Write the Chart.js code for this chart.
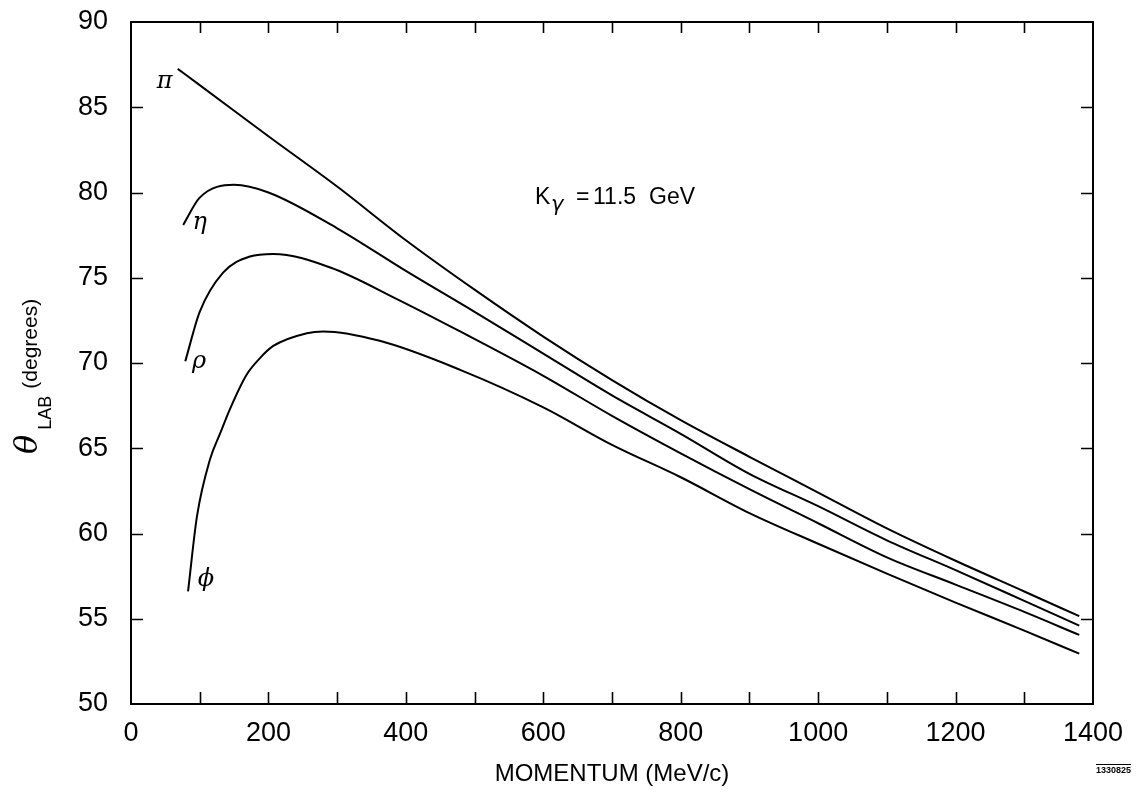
<!DOCTYPE html>
<html>
<head>
<meta charset="utf-8">
<script src="https://cdn.jsdelivr.net/npm/chart.js@4.4.1/dist/chart.umd.min.js"></script>
<style>
  html, body { margin: 0; padding: 0; background: #fff; }
</style>
</head>
<body>
<canvas id="chart" width="1139" height="794"></canvas>
<script>
// lab angle (degrees) against momentum (MeV/c) for each meson, K_gamma = 11.5 GeV
const piMomentum  = [68, 100, 200, 300, 400, 500, 600, 700, 800, 900, 1000, 1100, 1200, 1300, 1380];
const piAngle     = [87.25, 86.3, 83.3, 80.35, 77.2, 74.3, 71.55, 69.0, 66.65, 64.5, 62.4, 60.3, 58.4, 56.6, 55.15];

const etaMomentum = [76, 100, 150, 200, 300, 400, 500, 600, 700, 800, 900, 1000, 1100, 1200, 1300, 1380];
const etaAngle    = [78.1, 79.7, 80.45, 80.0, 77.9, 75.4, 73.0, 70.55, 68.1, 65.85, 63.5, 61.6, 59.6, 57.85, 56.05, 54.6];

const rhoMomentum = [79, 100, 134, 173, 207, 290, 387, 479, 600, 700, 800, 900, 1000, 1100, 1200, 1300, 1380];
const rhoAngle    = [70.1, 73.0, 75.3, 76.25, 76.4, 75.6, 73.75, 71.85, 69.25, 66.9, 64.7, 62.6, 60.6, 58.6, 57.0, 55.4, 54.05];

const phiMomentum = [83, 96, 115, 130, 144, 168, 188, 207, 256, 280, 362, 479, 600, 700, 800, 900, 1000, 1100, 1200, 1300, 1380];
const phiAngle    = [56.6, 61.0, 64.35, 65.9, 67.3, 69.3, 70.3, 71.0, 71.75, 71.85, 71.3, 69.6, 67.4, 65.2, 63.3, 61.2, 59.4, 57.65, 55.95, 54.3, 52.95];

// curve names, placed next to the low-momentum end of each curve
const curveNames     = ['π', 'η', 'ρ', 'ϕ'];
const curveNameAtX   = [49, 100, 99, 109];
const curveNameAtY   = [86.5, 78.2, 70.1, 57.3];

const FONT = '"Liberation Sans", Arial, Helvetica, sans-serif';

const toPoints = (xs, ys) => xs.map((x, i) => ({ x: x, y: ys[i] }));

const curve = (label, xs, ys) => ({
    label: label,
    data: toPoints(xs, ys),
    showLine: true,
    borderColor: '#000',
    borderWidth: 2,
    pointRadius: 0,
    cubicInterpolationMode: 'monotone',
    fill: false
});

// frame, inward ticks and the text that sits inside the plot
const framePlugin = {
    id: 'frame',
    afterDatasetsDraw(chart) {
        const ctx = chart.ctx;
        const a = chart.chartArea;
        const xs = chart.scales.x;
        const ys = chart.scales.y;

        ctx.save();
        ctx.strokeStyle = '#000';
        ctx.lineWidth = 2;
        ctx.strokeRect(a.left, a.top, a.right - a.left, a.bottom - a.top);

        ctx.lineWidth = 1.6;
        ctx.beginPath();
        for (let v = 100; v < 1400; v += 100) {
            const px = Math.round(xs.getPixelForValue(v)) + 0.5;
            ctx.moveTo(px, a.bottom); ctx.lineTo(px, a.bottom - 12);
            ctx.moveTo(px, a.top);    ctx.lineTo(px, a.top + 11);
        }
        for (let v = 55; v < 90; v += 5) {
            const py = Math.round(ys.getPixelForValue(v)) + 0.5;
            ctx.moveTo(a.left, py);  ctx.lineTo(a.left + 12, py);
            ctx.moveTo(a.right, py); ctx.lineTo(a.right - 12, py);
        }
        ctx.stroke();

        // curve names
        ctx.fillStyle = '#000';
        ctx.textAlign = 'center';
        ctx.textBaseline = 'middle';
        ctx.font = 'italic 24px "DejaVu Serif", serif';
        curveNames.forEach((name, i) => {
            ctx.fillText(name, xs.getPixelForValue(curveNameAtX[i]), ys.getPixelForValue(curveNameAtY[i]));
        });

        // beam energy note
        const nx = xs.getPixelForValue(588);
        const ny = ys.getPixelForValue(79.3);
        ctx.textAlign = 'left';
        ctx.textBaseline = 'alphabetic';
        ctx.font = '23px ' + FONT;
        ctx.fillText('K', nx, ny);
        ctx.font = 'italic 21px "DejaVu Sans", sans-serif';
        ctx.fillText('γ', nx + 16, ny + 7);
        ctx.font = '23px ' + FONT;
        ctx.fillText('=', nx + 41, ny);
        ctx.fillText('11.5', nx + 58, ny);
        ctx.fillText('GeV', nx + 114, ny);

        // y axis title: theta_LAB (degrees)
        ctx.save();
        ctx.translate(37, 454);
        ctx.rotate(-Math.PI / 2);
        ctx.font = 'italic 32px "DejaVu Serif", serif';
        ctx.fillText('θ', 0, 0);
        let off = ctx.measureText('θ').width + 5;
        ctx.font = '18px ' + FONT;
        ctx.fillText('LAB', off, 14);
        off += ctx.measureText('LAB').width + 7;
        ctx.font = '21px ' + FONT;
        ctx.fillText('(degrees)', off, 0);
        ctx.restore();

        // figure number
        ctx.font = 'bold 9px ' + FONT;
        ctx.fillText('1330825', 1096, 773);
        const w = ctx.measureText('1330825').width;
        ctx.lineWidth = 1;
        ctx.beginPath();
        ctx.moveTo(1096, 764.5); ctx.lineTo(1096 + w, 764.5);
        ctx.stroke();

        ctx.restore();
    }
};

const ctx = document.getElementById('chart').getContext('2d');
new Chart(ctx, {
    type: 'scatter',
    data: {
        datasets: [
            curve('π', piMomentum, piAngle),
            curve('η', etaMomentum, etaAngle),
            curve('ρ', rhoMomentum, rhoAngle),
            curve('ϕ', phiMomentum, phiAngle)
        ]
    },
    options: {
        responsive: false,
        animation: false,
        layout: { padding: { left: 0, top: 22, right: 46, bottom: 0 } },
        plugins: {
            legend: { display: false },
            tooltip: { enabled: false }
        },
        scales: {
            x: {
                type: 'linear',
                min: 0,
                max: 1400,
                grid: { display: false, drawTicks: false },
                border: { display: false },
                ticks: {
                    stepSize: 100,
                    autoSkip: false,
                    maxRotation: 0,
                    padding: 13,
                    color: '#000',
                    font: { family: FONT, size: 27 },
                    callback: v => (v % 200 === 0 ? String(v) : '')
                },
                title: {
                    display: true,
                    text: 'MOMENTUM (MeV/c)',
                    color: '#000',
                    font: { family: FONT, size: 24 },
                    padding: { top: 0, bottom: 5 }
                },
                afterFit: s => { s.height = 90; }
            },
            y: {
                min: 50,
                max: 90,
                grid: { display: false, drawTicks: false },
                border: { display: false },
                ticks: {
                    stepSize: 5,
                    padding: 23,
                    color: '#000',
                    font: { family: FONT, size: 27 }
                },
                afterFit: s => {
                    s.width = 131;
                    s.paddingTop = 0;
                    s.paddingBottom = 0;
                }
            }
        }
    },
    plugins: [framePlugin]
});
</script>
</body>
</html>
